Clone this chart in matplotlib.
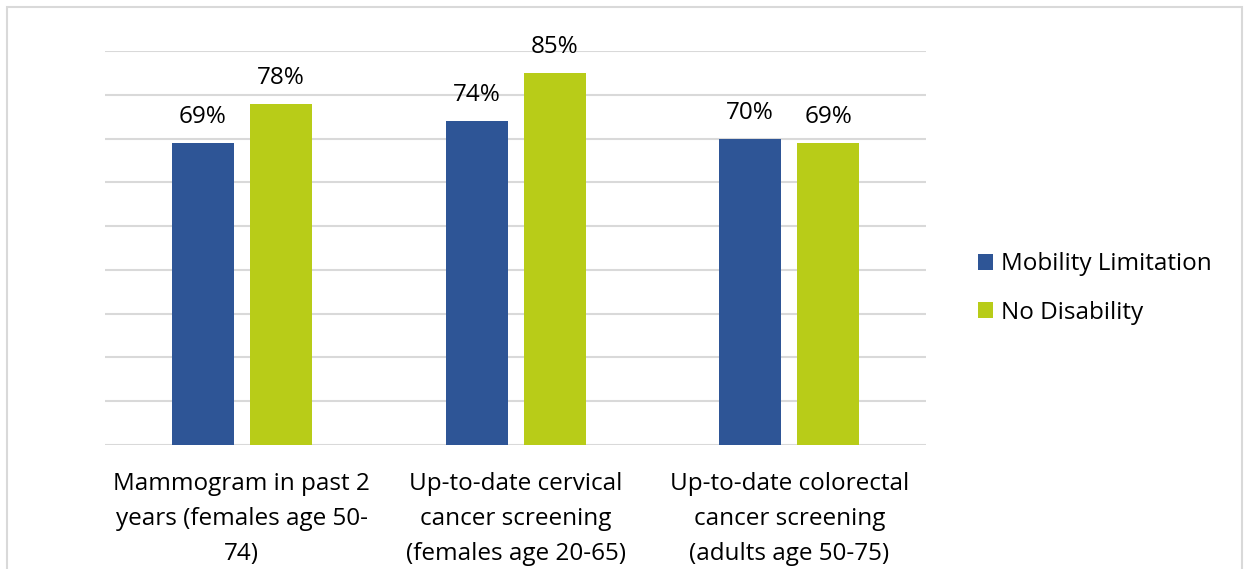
import matplotlib
matplotlib.use("Agg")
import matplotlib.pyplot as plt
from matplotlib.patches import Rectangle
import numpy as np

plt.rcParams['font.family'] = ['Open Sans', 'DejaVu Sans']

categories = [
    "Mammogram in past 2\nyears (females age 50-\n74)",
    "Up-to-date cervical\ncancer screening\n(females age 20-65)",
    "Up-to-date colorectal\ncancer screening\n(adults age 50-75)",
]
series_names = ["Mobility Limitation", "No Disability"]
mobility_limitation = [69, 74, 70]
no_disability = [78, 85, 69]
colors = ["#2E5596", "#B8CC18"]

fig = plt.figure(figsize=(12.44, 5.69), dpi=100)
ax = fig.add_axes([0.0844, 0.218, 0.660, 0.6924])

x = np.arange(len(categories))
width = 0.2265
offset = 0.1425
fs = 17.5

for vals, dx, color, name in zip([mobility_limitation, no_disability],
                                 [-offset, offset], colors, series_names):
    bars = ax.bar(x + dx, vals, width, color=color, label=name, zorder=3)
    for b, v in zip(bars, vals):
        ax.annotate(f"{v}%", (b.get_x() + b.get_width() / 2, v),
                    xytext=(0, 10), textcoords="offset points",
                    ha="center", va="bottom", fontsize=fs, color="#000000")

ax.set_xlim(-0.5, len(categories) - 0.5)
ax.set_ylim(0, 90)
ax.set_yticks(np.arange(0, 91, 10))
ax.yaxis.grid(True, color="#D9D9D9", linewidth=1.5, zorder=0)
ax.set_axisbelow(True)
ax.tick_params(axis="y", left=False, labelleft=False)
ax.set_xticks(x)
ax.set_xticklabels(categories, fontsize=fs, linespacing=1.6)
ax.tick_params(axis="x", length=0, pad=19.5)
for s in ax.spines.values():
    s.set_visible(False)

leg = ax.legend(loc="center left", bbox_to_anchor=(1.0633, 0.397), frameon=False,
                fontsize=fs, handlelength=0.62, handleheight=0.62,
                handletextpad=0.33, labelspacing=1.0,
                borderpad=0, borderaxespad=0)

# outer chart frame
fig.patches.append(Rectangle((7 / 1244, -0.05), 1235 / 1244, 1.05 - 7 / 569,
                             transform=fig.transFigure, fill=False,
                             edgecolor="#D9D9D9", linewidth=1.5))

fig.savefig("out.png", dpi=100)
